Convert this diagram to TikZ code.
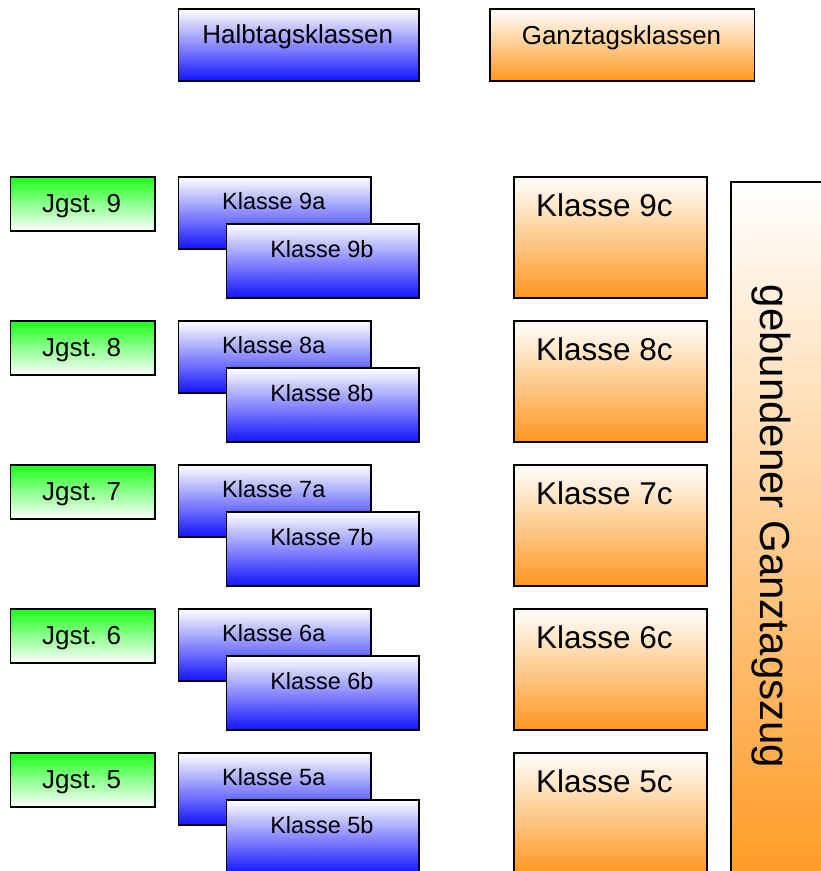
\documentclass[tikz,border=0pt]{standalone}
\usepackage{fontspec}
\setmainfont{Liberation Sans}
\definecolor{bl}{RGB}{20,20,255}
\definecolor{og}{RGB}{255,152,30}
\definecolor{gr}{RGB}{30,255,30}
\begin{document}
\begin{tikzpicture}[x=1pt,y=-1pt,
  boxbase/.style={draw=black, line width=1.8pt, inner sep=0pt, anchor=north west},
  halbbox/.style={boxbase, top color=white, middle color=bl!32, bottom color=bl},
  ganzbox/.style={boxbase, top color=white, middle color=og!38, bottom color=og},
  jgstbox/.style={boxbase, top color=gr, middle color=gr!30, bottom color=white},
  hdrtxt/.style={anchor=base, inner sep=0pt, font=\fontsize{26}{30}\selectfont},
  abtxt/.style={anchor=base, inner sep=0pt, font=\fontsize{23.5}{28}\selectfont},
  ctxt/.style={anchor=base, inner sep=0pt, font=\fontsize{31.5}{36}\selectfont},
  bartxt/.style={anchor=base, inner sep=0pt, rotate=-90, font=\fontsize{42}{48}\selectfont}]
\useasboundingbox (0,0) rectangle (821,871);
\clip (0,0) rectangle (821,871);
% headers
\node[halbbox, minimum width=240.4pt, minimum height=71.5pt] (hk) at (177.6,8.4) {};
\node[hdrtxt] (hkt) at (297.8,43) {Halbtagsklassen};
\node[ganzbox, minimum width=264.5pt, minimum height=71.5pt] (gk) at (489,8.4) {};
\node[hdrtxt] (gkt) at (621.5,44) {Ganztagsklassen};
% rows
\foreach \g [count=\r from 0] in {9,8,7,6,5} {
  \pgfmathsetmacro{\T}{176+144*\r}
  \node[jgstbox, minimum width=144.5pt, minimum height=54pt] (j\g) at (9.5,\T) {};
  \node[hdrtxt] (jt\g) at (81.7,\T+36) {Jgst. \g};
  \node[halbbox, minimum width=192.5pt, minimum height=72pt] (a\g) at (177.5,\T) {};
  \node[abtxt] (at\g) at (273.8,\T+33.3) {Klasse \g a};
  \node[halbbox, minimum width=192.8pt, minimum height=73.4pt] (b\g) at (225.5,\T+47.3) {};
  \node[abtxt] (bt\g) at (321.9,\T+81.3) {Klasse \g b};
  \node[ganzbox, minimum width=193pt, minimum height=120.7pt] (c\g) at (513.3,\T) {};
  \node[ctxt] (ct\g) at (604.5,\T+40.7) {Klasse \g c};
}
% bar
\node[ganzbox, minimum width=120pt, minimum height=720pt] (bar) at (730,181) {};
\node[bartxt] (bart) at (760,526.5) {gebundener Ganztagszug};
\end{tikzpicture}
\end{document}
